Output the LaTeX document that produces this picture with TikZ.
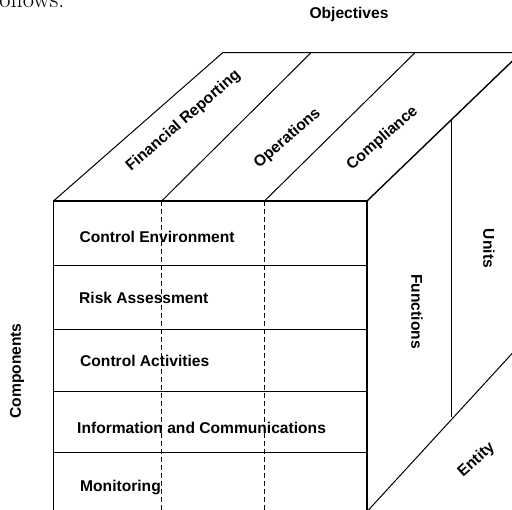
\documentclass[tikz,border=0pt]{standalone}
\usepackage{fontspec}
\newfontfamily\hv{Liberation Sans}
\begin{document}
\begin{tikzpicture}[x=1pt,y=-1pt,
  lbl/.style={font=\hv\bfseries\fontsize{15.6}{18}\selectfont, inner sep=0pt},
  faceedge/.style={line width=1.3pt},
  thinline/.style={line width=1pt},
  dashline/.style={line width=0.9pt, dash pattern=on 5pt off 3pt}]
\useasboundingbox (0,0) rectangle (512,510);
\clip (0,0) rectangle (512,510);
% page text fragment
\node[anchor=base west, inner sep=0pt, font=\fontsize{24.4}{28}\selectfont] (ftext) at (-7.5,7.5) {follows.};
% coordinates
\coordinate (A) at (53.5,201);
\coordinate (B) at (367,201);
\coordinate (Abot) at (53.5,520);
\coordinate (Bbot) at (367,520);
\coordinate (D1) at (161.7,201);
\coordinate (D2) at (264.5,201);
\coordinate (D1b) at (161.7,520);
\coordinate (D2b) at (264.5,520);
\coordinate (TL) at (222.7,52.7);
\coordinate (T1) at (311,52.7);
\coordinate (T2) at (415,52.7);
\coordinate (TR) at (521,52.7);
\coordinate (S1) at (451,120);
\coordinate (S2) at (451,417);
\coordinate (E1) at (367,511.6);
\coordinate (E2) at (530,334);
% rows
\foreach \y in {265.7,329.3,391.3,452.3}{
  \draw[thinline] (53.5,\y) -- (367,\y);
}
% dashed columns
\draw[dashline] (D1) -- (D1b);
\draw[dashline] (D2) -- (D2b);
% front face outline
\draw[faceedge] (Abot) -- (A) -- (B) -- (Bbot);
\draw[line width=1.8pt] (A) -- (B);
% top face
\draw[thinline] (A) -- (TL) -- (TR);
\draw[thinline] (D1) -- (T1);
\draw[thinline] (D2) -- (T2);
\draw[line width=1.4pt] (B) -- (TR);
% side face
\draw[thinline] (S1) -- (S2);
\draw[thinline] (E1) -- (E2);
% labels
\node[lbl] (obj) at (349,14) {Objectives};
\node[lbl, rotate=41] (fin) at (183.5,121) {Financial Reporting};
\node[lbl, rotate=41] (ops) at (287.5,138.5) {Operations};
\node[lbl, rotate=41] (cmp) at (382.5,138.5) {Compliance};
\node[lbl, rotate=90] (comp) at (17,371) {Components};
\node[lbl, rotate=-90] (fun) at (417,311.5) {Functions};
\node[lbl, rotate=-90] (uni) at (489,248.5) {Units};
\node[lbl, rotate=42] (ent) at (476.5,460) {Entity};
\node[lbl, anchor=west] (r1) at (79.3,236.7) {Control Environment};
\node[lbl, anchor=west] (r2) at (79,297.7) {Risk Assessment};
\node[lbl, anchor=west] (r3) at (80,360.7) {Control Activities};
\node[lbl, anchor=west] (r4) at (77,427.7) {Information and Communications};
\node[lbl, anchor=west] (r5) at (80,487.7) {Monitoring};
\end{tikzpicture}
\end{document}
